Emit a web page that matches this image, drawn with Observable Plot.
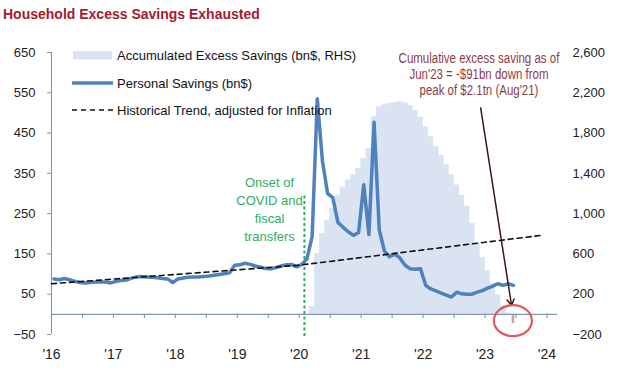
<!DOCTYPE html>
<html><head><meta charset="utf-8">
<script src="https://cdn.jsdelivr.net/npm/d3@7"></script>
<script src="https://cdn.jsdelivr.net/npm/@observablehq/plot@0.6"></script>
<style>
body{margin:0;background:#fff;font-family:"Liberation Sans",Arial,sans-serif;}
#title{height:24px;box-sizing:border-box;padding:5.5px 0 0 3px;font:bold 14px/16px "Liberation Sans",Arial,sans-serif;color:#a6192e;white-space:nowrap;}
#chart svg{display:block;}
</style></head><body>
<div id="title">Household Excess Savings Exhausted</div>
<div id="chart"></div>
<script>
// ---- data (monthly, bn$) ----
const startYear = 2016;
const personalSavings2016 = [88, 86, 89, 86, 82, 79, 78, 79, 80, 81, 80, 78];
const personalSavings2017 = [82, 84, 85, 90, 93, 94, 93, 92, 91, 89, 88, 79];
const personalSavings2018 = [88, 90, 92, 93, 93, 94, 95, 97, 99, 101, 103, 122];
const personalSavings2019 = [123, 127, 124, 120, 117, 114, 113, 116, 120, 123, 124, 118];
const personalSavings2020 = [124, 138, 193, 535, 380, 300, 290, 228, 216, 205, 196, 203];
const personalSavings2021 = [322, 198, 477, 210, 157, 143, 150, 140, 122, 113, 112, 113];
const personalSavings2022 = [72, 63, 58, 53, 48, 43, 55, 51, 50, 50, 55, 59];
const personalSavings2023 = [65, 70, 76, 72, 76, 72];

// accumulated excess savings (bn$, RHS), from Mar 2020 to Jun 2023
const excessStartYear = 2020, excessStartMonth = 3;
const accumulatedExcess = [
  72, 600, 800, 930, 1050, 1180, 1260, 1330, 1380, 1445,
  1540, 1640, 1960, 2060, 2075, 2090, 2100, 2110, 2095, 2070, 2020, 1955,
  1860, 1760, 1660, 1575, 1480, 1380, 1280, 1180, 1070, 900, 700, 560,
  430, 300, 190, 80, 10, -91
];

// historical trend, adjusted for inflation
const trendYears  = [2016, 2017, 2018, 2019, 2020, 2021, 2022, 2023, 2023.9];
const trendValues = [76, 87.5, 99, 110.5, 122, 141, 160, 179, 196];

// axes
const lhsTicks = [-50, 50, 150, 250, 350, 450, 550, 650];
const rhsTicks = [-200, 200, 600, 1000, 1400, 1800, 2200, 2600];
const rhsFactor = 4; // 2,600 (RHS) aligns with 650 (LHS)
const yearTicks = [2016, 2017, 2018, 2019, 2020, 2021, 2022, 2023, 2024];
const yearLabels = ["'16", "'17", "'18", "'19", "'20", "'21", "'22", "'23", "'24"];

// annotations
const covidOnset = 2020 + 1 / 12; // Feb 2020
const covidText = "Onset of\nCOVID and\nfiscal\ntransfers";
const noteText = "Cumulative excess saving as of\nJun'23 = -$91bn down from\npeak of $2.1tn (Aug'21)";
const legendItems = ["Accumulated Excess Savings (bn$, RHS)", "Personal Savings (bn$)", "Historical Trend, adjusted for Inflation"];

// ---- build tables ----
const personalSavings = [].concat(personalSavings2016, personalSavings2017, personalSavings2018,
  personalSavings2019, personalSavings2020, personalSavings2021, personalSavings2022, personalSavings2023);
const savingsData = personalSavings.map((v, k) => ({t: startYear + (k + 0.5) / 12, v}));
const excessT0 = excessStartYear + (excessStartMonth - 1) / 12;
const excessData = accumulatedExcess.map((r, i) => ({t1: excessT0 + i / 12, t2: excessT0 + (i + 1) / 12, r}));
const trendData = trendYears.map((t, i) => ({t, v: trendValues[i]}));
const halfYearTicks = d3.range(yearTicks[0], yearTicks[yearTicks.length - 1] + 0.01, 0.5);
const lastBar = excessData[excessData.length - 1];
const lastT = (lastBar.t1 + lastBar.t2) / 2;

const axisColor = "#8497b0";
const blue = "#4f81bd";
const areaColor = "#dae3f2";
const noteX = 2022.91;

const plot = Plot.plot({
  width: 623, height: 352,
  marginLeft: 51, marginRight: 66, marginTop: 28, marginBottom: 42,
  style: {fontFamily: "'Liberation Sans', Arial, sans-serif", fontSize: "13px", color: "#222", background: "#fff"},
  x: {domain: [2016, 2024.17], label: null},
  y: {domain: [-50, 650], label: null},
  marks: [
    Plot.rect(excessData.filter(d => d.r >= 0), {x1: "t1", x2: "t2", y1: 0, y2: d => d.r / rhsFactor, fill: areaColor, stroke: areaColor, strokeWidth: 0.6}),
    Plot.rect(excessData.filter(d => d.r < 0), {x1: d => d.t1 + 0.02, x2: d => d.t2 - 0.02, y1: 0, y2: d => d.r / rhsFactor, fill: "#cda2ab"}),
    Plot.ruleY([0], {stroke: axisColor, strokeWidth: 1.1}),
    Plot.ruleX(halfYearTicks, {y1: 0, y2: -10, stroke: axisColor, strokeWidth: 1.1}),
    Plot.ruleX([yearTicks[0]], {stroke: axisColor, strokeWidth: 1.1}),
    Plot.ruleX([covidOnset], {y1: -55, y2: 295, stroke: "#2fae5f", strokeWidth: 2, strokeDasharray: "3,2.5"}),
    Plot.line(savingsData, {x: "t", y: "v", stroke: blue, strokeWidth: 3.5, strokeLinejoin: "round", curve: "linear"}),
    Plot.line(trendData, {x: "t", y: "v", stroke: "#111", strokeWidth: 1.6, strokeDasharray: "5,4"}),
    Plot.axisY(lhsTicks, {anchor: "left", tickSize: 4, tickPadding: 12, stroke: axisColor, fill: "#222", fontSize: 13}),
    Plot.axisY(rhsTicks.map(r => r / rhsFactor), {anchor: "right", tickSize: 0, tickPadding: 15, fill: "#222", fontSize: 13,
      tickFormat: d => d3.format(",")(Math.round(d * rhsFactor))}),
    Plot.axisX(yearTicks, {anchor: "bottom", tickSize: 0, tickPadding: 15, fill: "#222", fontSize: 14,
      tickFormat: d => yearLabels[yearTicks.indexOf(d)]}),
    Plot.text([covidText], {x: 2019.52, y: 263, text: d => d, fill: "#2fae5f", fontSize: 13, lineHeight: 1.38, textAnchor: "middle"}),
    Plot.text([noteText], {x: noteX, y: 595, text: d => d, fill: "#8e3b46", fontSize: 14, lineHeight: 1.15, textAnchor: "middle", className: "note"}),
    Plot.arrow([{x1: 2022.93, y1: 512, x2: lastT - 0.03, y2: 22}], {x1: "x1", y1: "y1", x2: "x2", y2: "y2", stroke: "#3a1515", strokeWidth: 1.5, headLength: 7})
  ]
});

document.getElementById("chart").appendChild(plot);

// overlays placed through the plot's own scales
const sx = plot.scale("x"), sy = plot.scale("y");
const svg = d3.select(plot);

// narrow the annotation text horizontally (Arial Narrow look)
const cx = sx.apply(noteX);
svg.select("g.note").attr("transform", `translate(${cx},0) scale(0.82,1) translate(${-cx},0)`);

svg.append("ellipse")
  .attr("cx", sx.apply(lastT)).attr("cy", sy.apply(-17))
  .attr("rx", 19).attr("ry", 15.5)
  .attr("fill", "none").attr("stroke", "#e0575b").attr("stroke-width", 2.2);

// legend
const lg = svg.append("g").attr("font-family", "'Liberation Sans', Arial, sans-serif").attr("font-size", 13).attr("fill", "#111").attr("text-anchor", "start");
lg.append("rect").attr("x", 73).attr("y", 27).attr("width", 39).attr("height", 8.5).attr("fill", areaColor);
lg.append("line").attr("x1", 72).attr("x2", 113).attr("y1", 59).attr("y2", 59).attr("stroke", blue).attr("stroke-width", 3.5);
lg.append("line").attr("x1", 72).attr("x2", 113).attr("y1", 86).attr("y2", 86).attr("stroke", "#111").attr("stroke-width", 1.6).attr("stroke-dasharray", "5,4");
[31, 59, 86].forEach((y, i) => {
  lg.append("text").attr("x", 117).attr("y", y).attr("dy", "0.35em").attr("text-anchor", "start").text(legendItems[i]);
});
</script>
</body></html>
